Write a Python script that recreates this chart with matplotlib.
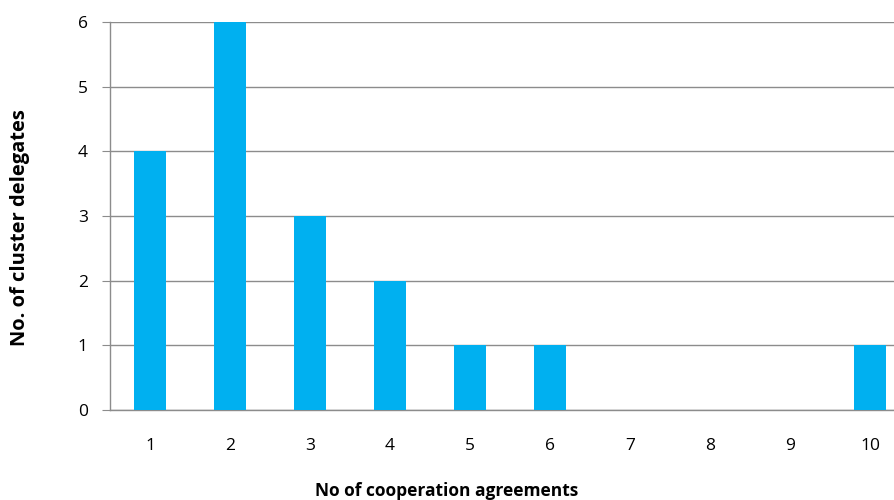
import numpy as np
import matplotlib.pyplot as plt

agreements = [1, 2, 3, 4, 5, 6, 7, 8, 9, 10]
delegates = [4, 6, 3, 2, 1, 1, 0, 0, 0, 1]

plt.rcParams['font.family'] = ['Open Sans', 'DejaVu Sans']

fig = plt.figure(figsize=(8.95, 5.0), dpi=100)
# axes runs past the right edge, as in the cropped original
ax = fig.add_axes([110 / 895, 90 / 500, 800 / 895, 388 / 500])

ax.bar(agreements, delegates, width=0.4, color='#00B0F0', zorder=3)

ax.set_xlim(0.5, 10.5)
ax.set_ylim(0, 6)
ax.set_xticks(agreements)
ax.set_yticks(range(0, 7))
ax.yaxis.grid(True, color='#8c8c8c', linewidth=1.0, zorder=0)

for s in ['top', 'right']:
    ax.spines[s].set_visible(False)
ax.spines['left'].set_color('#8c8c8c')
ax.spines['bottom'].set_color('#8c8c8c')
ax.spines['left'].set_linewidth(1.0)
ax.spines['bottom'].set_linewidth(1.0)

ax.tick_params(axis='x', length=0, pad=20, labelsize=12.5)
ax.tick_params(axis='y', length=6, color='#8c8c8c', pad=10, labelsize=12.5)

ax.set_xlabel("No of cooperation agreements", fontsize=12.5, fontweight='bold', va='center')
ax.xaxis.set_label_coords(337 / 800, -81 / 388)
ax.set_ylabel("No. of cluster delegates", fontsize=14.5, fontweight='bold', va='center')
ax.yaxis.set_label_coords(-90 / 800, 182 / 388)

fig.savefig("out.png", dpi=100)
